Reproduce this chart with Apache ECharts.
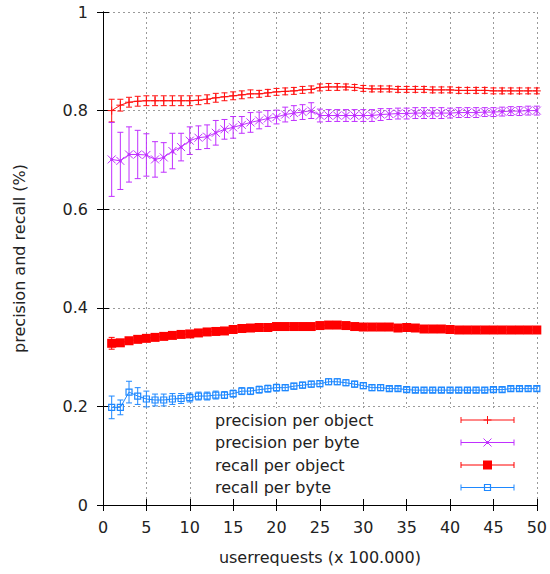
<!DOCTYPE html>
<html>
<head>
<meta charset="utf-8">
<title>precision and recall</title>
<script src="https://cdn.jsdelivr.net/npm/echarts@6/dist/echarts.min.js"></script>
<style>
  html, body { margin: 0; padding: 0; background: #fff; }
  #chart { width: 550px; height: 574px; }
</style>
</head>
<body>
<div id="chart"></div>
<script>
// userrequests (x 100.000)
const requests = [1, 2, 3, 4, 5, 6, 7, 8, 9, 10, 11, 12, 13, 14, 15, 16, 17, 18, 19, 20,
  21, 22, 23, 24, 25, 26, 27, 28, 29, 30, 31, 32, 33, 34, 35, 36, 37, 38, 39, 40,
  41, 42, 43, 44, 45, 46, 47, 48, 49, 50];

const precisionPerObject = [0.800, 0.811, 0.817, 0.819, 0.820, 0.820, 0.820, 0.820, 0.820, 0.820,
  0.821, 0.823, 0.826, 0.828, 0.830, 0.832, 0.834, 0.834, 0.836, 0.838,
  0.839, 0.840, 0.842, 0.843, 0.847, 0.848, 0.848, 0.848, 0.847, 0.845,
  0.844, 0.844, 0.844, 0.843, 0.843, 0.843, 0.843, 0.842, 0.842, 0.842,
  0.841, 0.841, 0.841, 0.841, 0.840, 0.840, 0.840, 0.840, 0.840, 0.840];
const precisionPerObjectErr = [0.023, 0.012, 0.010, 0.010, 0.010, 0.010, 0.010, 0.010, 0.010, 0.010,
  0.009, 0.009, 0.009, 0.008, 0.008, 0.008, 0.008, 0.007, 0.007, 0.007,
  0.007, 0.007, 0.007, 0.007, 0.007, 0.007, 0.007, 0.006, 0.006, 0.006,
  0.006, 0.006, 0.006, 0.006, 0.006, 0.006, 0.006, 0.006, 0.006, 0.006,
  0.006, 0.006, 0.006, 0.006, 0.006, 0.006, 0.006, 0.006, 0.006, 0.006];

const precisionPerByte = [0.701, 0.698, 0.711, 0.711, 0.710, 0.701, 0.705, 0.718, 0.726, 0.739,
  0.745, 0.747, 0.755, 0.762, 0.766, 0.771, 0.776, 0.780, 0.784, 0.787,
  0.792, 0.795, 0.797, 0.800, 0.790, 0.790, 0.790, 0.790, 0.790, 0.790,
  0.790, 0.792, 0.793, 0.794, 0.794, 0.795, 0.795, 0.795, 0.795, 0.795,
  0.796, 0.796, 0.796, 0.797, 0.797, 0.798, 0.799, 0.799, 0.800, 0.800];
const precisionPerByteErr = [0.075, 0.058, 0.056, 0.049, 0.043, 0.036, 0.030, 0.036, 0.028, 0.028,
  0.024, 0.024, 0.025, 0.020, 0.022, 0.017, 0.020, 0.017, 0.016, 0.014,
  0.015, 0.015, 0.015, 0.016, 0.013, 0.012, 0.012, 0.012, 0.012, 0.012,
  0.012, 0.012, 0.011, 0.011, 0.011, 0.011, 0.011, 0.011, 0.011, 0.010,
  0.010, 0.010, 0.010, 0.009, 0.009, 0.009, 0.009, 0.009, 0.009, 0.009];

const recallPerObject = [0.328, 0.329, 0.333, 0.336, 0.338, 0.340, 0.342, 0.344, 0.346, 0.347,
  0.349, 0.351, 0.352, 0.353, 0.356, 0.358, 0.359, 0.360, 0.360, 0.362,
  0.362, 0.362, 0.362, 0.362, 0.364, 0.365, 0.365, 0.364, 0.362, 0.361,
  0.361, 0.361, 0.361, 0.359, 0.360, 0.359, 0.357, 0.357, 0.357, 0.356,
  0.355, 0.355, 0.355, 0.355, 0.355, 0.355, 0.355, 0.355, 0.355, 0.355];
const recallPerObjectErr = [0.012, 0.006, 0.005, 0.005, 0.005, 0.005, 0.004, 0.004, 0.004, 0.004,
  0.004, 0.004, 0.004, 0.004, 0.004, 0.004, 0.004, 0.004, 0.004, 0.004,
  0.004, 0.004, 0.004, 0.004, 0.004, 0.004, 0.004, 0.004, 0.004, 0.004,
  0.004, 0.004, 0.004, 0.004, 0.004, 0.004, 0.004, 0.004, 0.004, 0.004,
  0.004, 0.004, 0.004, 0.004, 0.004, 0.004, 0.004, 0.004, 0.004, 0.004];

const recallPerByte = [0.198, 0.198, 0.229, 0.221, 0.215, 0.213, 0.213, 0.215, 0.216, 0.218,
  0.221, 0.221, 0.223, 0.223, 0.226, 0.231, 0.231, 0.234, 0.236, 0.238,
  0.238, 0.241, 0.243, 0.245, 0.246, 0.250, 0.250, 0.248, 0.245, 0.242,
  0.238, 0.238, 0.236, 0.236, 0.234, 0.233, 0.233, 0.233, 0.233, 0.233,
  0.233, 0.233, 0.233, 0.233, 0.234, 0.234, 0.236, 0.236, 0.236, 0.236];
const recallPerByteErr = [0.023, 0.015, 0.022, 0.017, 0.016, 0.012, 0.012, 0.011, 0.010, 0.009,
  0.008, 0.008, 0.008, 0.007, 0.007, 0.007, 0.007, 0.007, 0.007, 0.007,
  0.006, 0.006, 0.006, 0.006, 0.006, 0.006, 0.006, 0.006, 0.006, 0.006,
  0.006, 0.006, 0.005, 0.005, 0.005, 0.005, 0.005, 0.005, 0.005, 0.005,
  0.005, 0.005, 0.005, 0.005, 0.005, 0.005, 0.005, 0.005, 0.005, 0.005];

const seriesDefs = [
  { name: 'precision per object', values: precisionPerObject, errors: precisionPerObjectErr, color: '#ff1010', marker: 'plus' },
  { name: 'precision per byte', values: precisionPerByte, errors: precisionPerByteErr, color: '#c030ff', marker: 'cross' },
  { name: 'recall per object', values: recallPerObject, errors: recallPerObjectErr, color: '#ff0000', marker: 'square' },
  { name: 'recall per byte', values: recallPerByte, errors: recallPerByteErr, color: '#1e88ff', marker: 'box' }
];

const FONT = '"DejaVu Sans", sans-serif';
const TEXT = '#222';

// point marker shapes centred on (cx, cy)
function markerShapes(kind, cx, cy, color) {
  const s = { stroke: color, lineWidth: 1, fill: null };
  if (kind === 'plus') {
    return [
      { type: 'line', shape: { x1: cx - 4, y1: cy, x2: cx + 4, y2: cy }, style: s },
      { type: 'line', shape: { x1: cx, y1: cy - 4, x2: cx, y2: cy + 4 }, style: s }
    ];
  }
  if (kind === 'cross') {
    return [
      { type: 'line', shape: { x1: cx - 4, y1: cy - 4, x2: cx + 4, y2: cy + 4 }, style: s },
      { type: 'line', shape: { x1: cx - 4, y1: cy + 4, x2: cx + 4, y2: cy - 4 }, style: s },
      { type: 'circle', shape: { cx: cx, cy: cy, r: 1.5 }, style: { fill: color } }
    ];
  }
  if (kind === 'square') {
    return [{ type: 'rect', shape: { x: cx - 4.5, y: cy - 4.5, width: 9, height: 9 }, style: { fill: color } }];
  }
  return [{ type: 'rect', shape: { x: cx - 3, y: cy - 3, width: 6, height: 6 }, style: { stroke: color, lineWidth: 1.2, fill: null } }];
}

// vertical error bar with caps
function errorBar(x, lo, hi, color, cap) {
  const s = { stroke: color, lineWidth: 1 };
  return [
    { type: 'line', shape: { x1: x, y1: lo, x2: x, y2: hi }, style: s },
    { type: 'line', shape: { x1: x - cap, y1: lo, x2: x + cap, y2: lo }, style: s },
    { type: 'line', shape: { x1: x - cap, y1: hi, x2: x + cap, y2: hi }, style: s }
  ];
}

const series = [];
seriesDefs.forEach(function (d) {
  series.push({
    type: 'line',
    name: d.name,
    data: requests.map(function (x, i) { return [x, d.values[i]]; }),
    showSymbol: false,
    symbol: 'none',
    lineStyle: { color: d.color, width: 1 },
    silent: true,
    z: 2
  });
  series.push({
    type: 'custom',
    name: d.name + ' err',
    data: requests.map(function (x, i) { return [x, d.values[i], d.errors[i]]; }),
    renderItem: function (params, api) {
      const x = api.value(0), v = api.value(1), e = api.value(2);
      const p = api.coord([x, v]);
      const lo = api.coord([x, v - e]);
      const hi = api.coord([x, v + e]);
      const children = errorBar(p[0], lo[1], hi[1], d.color, 3)
        .concat(markerShapes(d.marker, p[0], p[1], d.color));
      return { type: 'group', children: children };
    },
    silent: true,
    z: 3
  });
});

// key, drawn on a blank panel inside the plot
const keyRows = [420, 442.5, 465, 487.5];
const keyX1 = 461, keyX2 = 514, keyMid = 487.5;
const graphic = [{
  type: 'rect', left: 203, top: 408, z: 1,
  shape: { width: 333, height: 91 },
  style: { fill: '#fff' }
}];
seriesDefs.forEach(function (d, i) {
  const y = keyRows[i];
  graphic.push({
    type: 'text', x: 215, y: y, z: 5,
    style: { text: d.name, font: '16px ' + FONT, fill: TEXT, textVerticalAlign: 'middle', verticalAlign: 'middle' }
  });
  const parts = [{ type: 'line', shape: { x1: keyX1, y1: y, x2: keyX2, y2: y }, style: { stroke: d.color, lineWidth: 1 } }]
    .concat(errorBar(keyX1, y - 3, y + 3, d.color, 0).slice(0, 1))
    .concat(errorBar(keyX2, y - 3, y + 3, d.color, 0).slice(0, 1))
    .concat(markerShapes(d.marker, keyMid, y, d.color));
  parts.forEach(function (el) {
    el.z = 5;
    graphic.push(el);
  });
});

const axisLine = { show: true, lineStyle: { color: '#000', width: 1 } };
const gridLine = { show: true, lineStyle: { color: '#9a9a9a', width: 1, type: [2, 3] } };

const chart = echarts.init(document.getElementById('chart'), null, { renderer: 'svg' });
chart.setOption({
  animation: false,
  backgroundColor: '#fff',
  grid: { left: 103, right: 13, top: 12, bottom: 69, containLabel: false },
  xAxis: [{
    type: 'value', min: 0, max: 50, interval: 5,
    name: 'userrequests (x 100.000)', nameLocation: 'middle', nameGap: 44,
    nameTextStyle: { fontFamily: FONT, fontSize: 16, color: TEXT },
    axisLine: axisLine,
    axisTick: { show: true, inside: true, length: 6, lineStyle: { color: '#000' } },
    axisLabel: { fontFamily: FONT, fontSize: 16, color: TEXT, margin: 14 },
    splitLine: gridLine
  }, {
    type: 'value', min: 0, max: 50, interval: 5, position: 'top',
    axisLine: axisLine,
    axisTick: { show: true, inside: true, length: 6, lineStyle: { color: '#000' } },
    axisLabel: { show: false }, splitLine: { show: false }
  }],
  yAxis: [{
    type: 'value', min: 0, max: 1, interval: 0.2,
    name: 'precision and recall (%)', nameLocation: 'middle', nameGap: 76, nameRotate: 90,
    nameTextStyle: { fontFamily: FONT, fontSize: 16, color: TEXT },
    axisLine: axisLine,
    axisTick: { show: true, inside: true, length: 6, lineStyle: { color: '#000' } },
    axisLabel: {
      fontFamily: FONT, fontSize: 16, color: TEXT, margin: 15,
      formatter: function (v) { return (v === 0 || v === 1) ? String(v) : v.toFixed(1); }
    },
    splitLine: gridLine
  }, {
    type: 'value', min: 0, max: 1, interval: 0.2, position: 'right',
    axisLine: axisLine,
    axisTick: { show: true, inside: true, length: 6, lineStyle: { color: '#000' } },
    axisLabel: { show: false }, splitLine: { show: false }
  }],
  graphic: graphic,
  series: series
});
</script>
</body>
</html>
